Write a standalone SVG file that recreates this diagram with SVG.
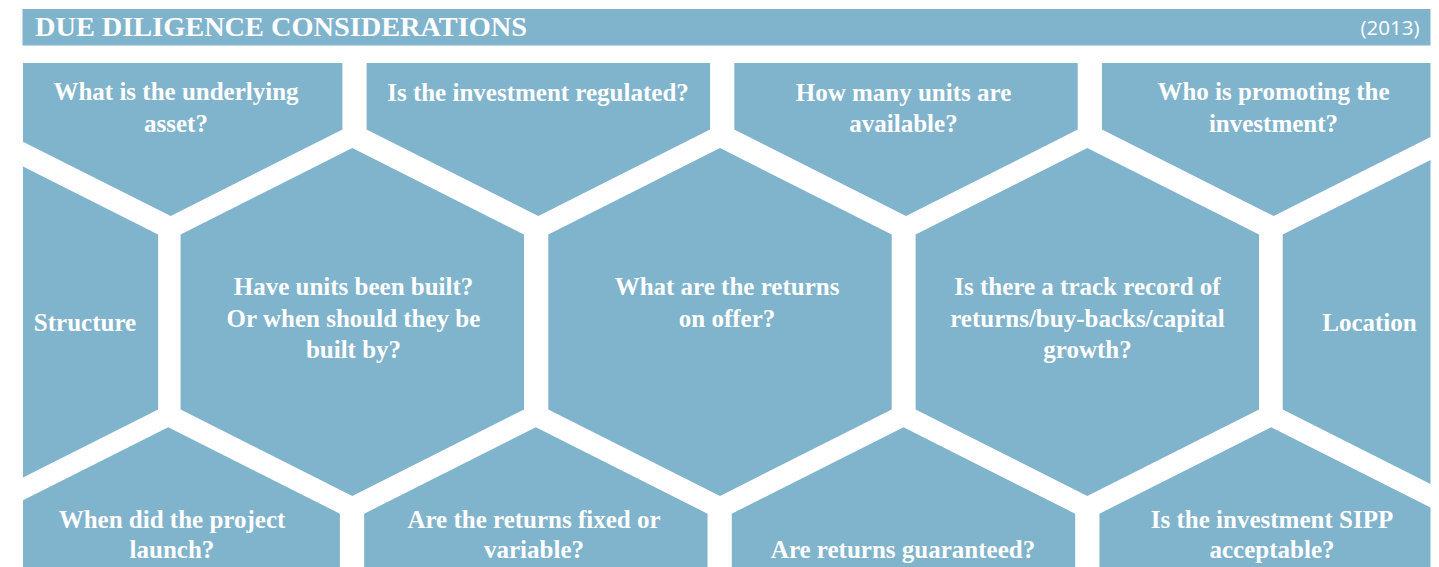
<svg xmlns="http://www.w3.org/2000/svg" xmlns:xlink="http://www.w3.org/1999/xlink" width="1439" height="567" viewBox="0 0 1439 567">
  <style>
    .bar { fill: #80B3CC; }
    .hex { fill: #80B3CC; }
    .title { font-family: "Liberation Serif", "DejaVu Serif", serif; font-weight: bold; font-size: 28px; fill: #FFFFFF; }
    .year { font-family: "Open Sans", "DejaVu Sans", sans-serif; font-size: 20.5px; fill: #FFFFFF; text-anchor: end; }
    .lbl { font-family: "Liberation Serif", "DejaVu Serif", serif; font-weight: bold; font-size: 25px; fill: #FFFFFF; text-anchor: middle; }
  </style>
  <defs>
    <!-- pointy-top hexagon centred on the origin -->
    <polygon id="hex" points="0,-173.9 171.7,-87.5 171.7,87.5 0,173.9 -171.7,87.5 -171.7,-87.5"/>
    <clipPath id="tileArea">
      <rect x="23" y="63" width="1407.5" height="510"/>
    </clipPath>
  </defs>

  <rect width="1439" height="567" fill="#FFFFFF"/>

  <!-- header bar -->
  <g id="header">
    <rect class="bar" x="22.5" y="9" width="1408" height="36.5"/>
    <text class="title" x="35" y="36" textLength="492" lengthAdjust="spacingAndGlyphs">DUE DILIGENCE CONSIDERATIONS</text>
    <text class="year" x="1419.5" y="34.5">(2013)</text>
  </g>

  <!-- honeycomb of questions -->
  <g id="nodes" clip-path="url(#tileArea)">
    <!-- top row -->
    <g id="underlying-asset">
      <use xlink:href="#hex" class="hex" x="170.7" y="42.1"/>
      <text class="lbl"><tspan x="176" y="100">What is the underlying</tspan><tspan x="176" y="131.5">asset?</tspan></text>
    </g>
    <g id="regulated">
      <use xlink:href="#hex" class="hex" x="538.35" y="42.1"/>
      <text class="lbl" x="538" y="101">Is the investment regulated?</text>
    </g>
    <g id="units-available">
      <use xlink:href="#hex" class="hex" x="906" y="42.1"/>
      <text class="lbl"><tspan x="903.5" y="100.5">How many units are</tspan><tspan x="903.5" y="131.5">available?</tspan></text>
    </g>
    <g id="promoter">
      <use xlink:href="#hex" class="hex" x="1273.65" y="42.1"/>
      <text class="lbl"><tspan x="1273.5" y="100">Who is promoting the</tspan><tspan x="1273.5" y="131.5">investment?</tspan></text>
    </g>

    <!-- middle row -->
    <g id="structure">
      <use xlink:href="#hex" class="hex" x="-13.6" y="322"/>
      <text class="lbl" x="85" y="330.5">Structure</text>
    </g>
    <g id="units-built">
      <use xlink:href="#hex" class="hex" x="352.3" y="322"/>
      <text class="lbl"><tspan x="353.5" y="295">Have units been built?</tspan><tspan x="353.5" y="326.5">Or when should they be</tspan><tspan x="353.5" y="357.5">built by?</tspan></text>
    </g>
    <g id="returns-on-offer">
      <use xlink:href="#hex" class="hex" x="720" y="322"/>
      <text class="lbl"><tspan x="727" y="295">What are the returns</tspan><tspan x="727" y="326.5">on offer?</tspan></text>
    </g>
    <g id="track-record">
      <use xlink:href="#hex" class="hex" x="1087.3" y="322"/>
      <text class="lbl"><tspan x="1087.5" y="295">Is there a track record of</tspan><tspan x="1087.5" y="326.5">returns/buy-backs/capital</tspan><tspan x="1087.5" y="357.5">growth?</tspan></text>
    </g>
    <g id="location">
      <use xlink:href="#hex" class="hex" x="1454.4" y="322"/>
      <text class="lbl" x="1369.5" y="330.5">Location</text>
    </g>

    <!-- bottom row -->
    <g id="project-launch">
      <use xlink:href="#hex" class="hex" x="168.2" y="601.2"/>
      <text class="lbl"><tspan x="172" y="527.5">When did the project</tspan><tspan x="172" y="558">launch?</tspan></text>
    </g>
    <g id="fixed-or-variable">
      <use xlink:href="#hex" class="hex" x="535.85" y="601.2"/>
      <text class="lbl"><tspan x="534" y="527.5">Are the returns fixed or</tspan><tspan x="534" y="558">variable?</tspan></text>
    </g>
    <g id="guaranteed">
      <use xlink:href="#hex" class="hex" x="903.5" y="601.2"/>
      <text class="lbl" x="903" y="557.5">Are returns guaranteed?</text>
    </g>
    <g id="sipp">
      <use xlink:href="#hex" class="hex" x="1271.15" y="601.2"/>
      <text class="lbl"><tspan x="1272" y="528">Is the investment SIPP</tspan><tspan x="1272" y="558">acceptable?</tspan></text>
    </g>
  </g>

  <!-- the honeycomb has no connectors -->
  <g id="connectors"/>
</svg>
